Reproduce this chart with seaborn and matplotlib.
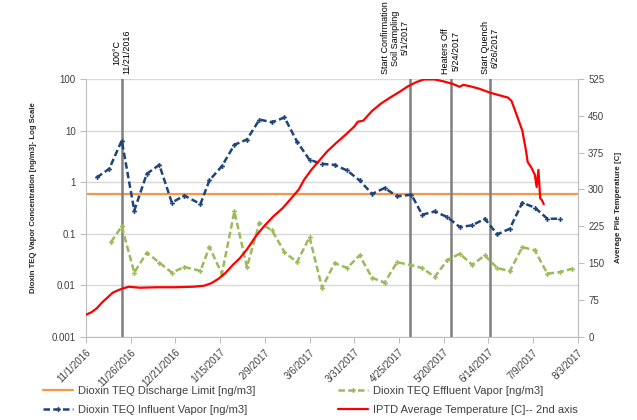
import matplotlib
matplotlib.use("Agg")
import matplotlib.pyplot as plt
from matplotlib.ticker import NullLocator
import pandas as pd
import seaborn as sns

sns.set_style("white")
plt.rcParams["font.family"] = ["Liberation Sans Narrow", "Liberation Sans", "DejaVu Sans"]

# weekly dioxin samples
influent_dates = ["2016-11-07", "2016-11-14", "2016-11-21", "2016-11-28", "2016-12-05", "2016-12-12",
                  "2016-12-19", "2016-12-26", "2017-01-04", "2017-01-09", "2017-01-16", "2017-01-23",
                  "2017-01-30", "2017-02-06", "2017-02-13", "2017-02-20", "2017-02-27", "2017-03-06",
                  "2017-03-13", "2017-03-20", "2017-03-27", "2017-04-03", "2017-04-10", "2017-04-17",
                  "2017-04-24", "2017-05-02", "2017-05-08", "2017-05-15", "2017-05-22", "2017-05-29",
                  "2017-06-05", "2017-06-12", "2017-06-19", "2017-06-26", "2017-07-03", "2017-07-10",
                  "2017-07-17", "2017-07-24"]
influent_vals = [1.23, 1.81, 6.4, 0.28, 1.45, 2.16, 0.40, 0.55, 0.375, 1.08,
                 2.04, 5.3, 6.7, 16.3, 14.5, 17.9, 6.1, 2.7, 2.26, 2.16,
                 1.68, 1.08, 0.59, 0.77, 0.53, 0.57, 0.233, 0.27, 0.21, 0.135,
                 0.145, 0.195, 0.097, 0.125, 0.40, 0.32, 0.195, 0.195]

effluent_dates = ["2016-11-15", "2016-11-21", "2016-11-28", "2016-12-05", "2016-12-12", "2016-12-19",
                  "2016-12-26", "2017-01-04", "2017-01-09", "2017-01-16", "2017-01-23", "2017-01-30",
                  "2017-02-06", "2017-02-13", "2017-02-20", "2017-02-27", "2017-03-06", "2017-03-13",
                  "2017-03-20", "2017-03-27", "2017-04-03", "2017-04-10", "2017-04-17", "2017-04-24",
                  "2017-05-02", "2017-05-08", "2017-05-15", "2017-05-22", "2017-05-29", "2017-06-05",
                  "2017-06-12", "2017-06-19", "2017-06-26", "2017-07-03", "2017-07-10", "2017-07-17",
                  "2017-07-24", "2017-07-31"]
effluent_vals = [0.069, 0.139, 0.0176, 0.043, 0.0275, 0.0176, 0.0226, 0.019, 0.055, 0.0168,
                 0.27, 0.0226, 0.163, 0.116, 0.044, 0.028, 0.086, 0.0089, 0.027, 0.0216,
                 0.038, 0.0139, 0.0113, 0.028, 0.0244, 0.0216, 0.0145, 0.0305, 0.041, 0.025,
                 0.038, 0.0216, 0.0187, 0.055, 0.0475, 0.0168, 0.018, 0.021]

discharge_limit = 0.6

# average pile temperature
temp_dates = ["2016-11-01", "2016-11-04", "2016-11-07", "2016-11-10", "2016-11-13", "2016-11-16",
              "2016-11-19", "2016-11-22", "2016-11-25", "2016-12-01", "2016-12-11", "2016-12-21",
              "2016-12-31", "2017-01-06", "2017-01-10", "2017-01-14", "2017-01-18", "2017-01-22",
              "2017-01-26", "2017-01-30", "2017-02-04", "2017-02-09", "2017-02-14", "2017-02-19",
              "2017-02-24", "2017-02-28", "2017-03-03", "2017-03-07", "2017-03-11", "2017-03-16",
              "2017-03-21", "2017-03-26", "2017-03-31", "2017-04-02", "2017-04-05", "2017-04-10",
              "2017-04-15", "2017-04-20", "2017-04-25", "2017-04-30", "2017-05-05", "2017-05-09",
              "2017-05-15", "2017-05-20", "2017-05-25", "2017-05-29", "2017-05-31", "2017-06-04",
              "2017-06-09", "2017-06-15", "2017-06-21", "2017-06-25", "2017-06-27", "2017-06-29",
              "2017-07-01", "2017-07-03", "2017-07-05", "2017-07-06", "2017-07-08", "2017-07-10",
              "2017-07-11", "2017-07-12", "2017-07-13", "2017-07-14", "2017-07-15"]
temp_vals = [45, 50, 58, 70, 80, 90, 95, 99, 102, 100, 101, 101,
             102, 104, 109, 118, 130, 146, 160, 178, 205, 227, 246, 262,
             283, 300, 320, 340, 357, 378, 395, 411, 428, 438, 440, 460,
             475, 487, 498, 510, 519, 524, 524, 520, 515, 509, 513, 510,
             505, 497, 491, 487, 480, 460, 440, 420, 380, 356, 345, 330,
             305, 340, 282, 278, 270]

events = [("2016-11-21", "100°C\n11/21/2016", "center"),
          ("2017-05-01", "Start Confirmation\nSoil Sampling\n5/1/2017", "right"),
          ("2017-05-24", "Heaters Off\n5/24/2017", "center"),
          ("2017-06-15", "Start Quench\n6/26/2017", "center")]

left_ticks = [0.001, 0.01, 0.1, 1, 10, 100]
left_labels = ["0.001", "0.01", "0.1", "1", "10", "100"]
right_ticks = [0, 75, 150, 225, 300, 375, 450, 525]

fig = plt.figure(figsize=(6.37, 4.2), dpi=100)
ax = fig.add_axes([0.135, 0.198, 0.772, 0.614])
ax2 = ax.twinx()

ax.set_yscale("log")
ax.axhline(discharge_limit, color="#f79646", lw=1.6, label="Dioxin TEQ Discharge Limit [ng/m3]", zorder=2)
sns.lineplot(x=pd.to_datetime(influent_dates), y=influent_vals, ax=ax, color="#1f4479",
             linestyle=(0, (2.6, 1.3)), lw=1.8, marker="P", markersize=3.5, markeredgewidth=0,
             label="Dioxin TEQ Influent Vapor [ng/m3]", zorder=3)
sns.lineplot(x=pd.to_datetime(effluent_dates), y=effluent_vals, ax=ax, color="#9bbb59",
             linestyle=(0, (2.6, 1.3)), lw=1.8, marker="P", markersize=3.5, markeredgewidth=0,
             label="Dioxin TEQ Effluent Vapor [ng/m3]", zorder=3)
sns.lineplot(x=pd.to_datetime(temp_dates), y=temp_vals, ax=ax2, color="#ff0000", lw=1.6,
             label="IPTD Average Temperature [C]-- 2nd axis")

for date, text, ha in events:
    d = pd.Timestamp(date)
    ax.axvline(d, color="#7f7f7f", lw=1.8, zorder=2.5)
    ax.text(d, 1.018, text, transform=ax.get_xaxis_transform(), rotation=90, ha=ha, va="bottom",
            multialignment="center", fontsize=6.5, color="#000000", linespacing=1.15)

start, end = pd.Timestamp("2016-11-01"), pd.Timestamp("2017-08-03")
ax.set_xlim(start, end)
xt = pd.date_range(start, end, freq="25D")
ax.set_xticks(xt)
ax.set_xticklabels([f"{d.month}/{d.day}/{d.year}" for d in xt], rotation=45, ha="right",
                   rotation_mode="anchor")

ax.set_ylim(0.001, 100)
ax.set_yticks(left_ticks)
ax.set_yticklabels(left_labels)
ax.yaxis.set_minor_locator(NullLocator())
ax2.set_ylim(0, 525)
ax2.set_yticks(right_ticks)

ax.yaxis.grid(True, color="#d9d9d9", lw=1)
ax.set_axisbelow(True)
ax.set_xlabel("")
ax.set_ylabel("Dioxin TEQ Vapor Concentration [ng/m3]- Log Scale", fontsize=5.6, fontweight="bold")
ax.yaxis.set_label_coords(-0.1, 0.54)
ax2.set_ylabel("Average Pile Temperature [C]", fontsize=5.8, fontweight="bold", labelpad=8)

for a in (ax, ax2):
    for s in a.spines.values():
        s.set_color("#bfbfbf")
    a.spines["top"].set_visible(False)
ax2.spines["left"].set_visible(False)
ax2.spines["bottom"].set_visible(False)
ax.tick_params(axis="both", bottom=True, left=True, direction="out", length=4, color="#bfbfbf",
               labelcolor="#404040", labelsize=7)
ax2.tick_params(axis="y", right=True, direction="out", length=4, color="#bfbfbf",
                labelcolor="#404040", labelsize=7)

h1, l1 = ax.get_legend_handles_labels()
h2, l2 = ax2.get_legend_handles_labels()
ax.get_legend().remove()
ax2.get_legend().remove()
handles = h1 + h2
labels = l1 + l2
fig.legend(handles, labels, ncol=2, frameon=False,
           loc="upper left", bbox_to_anchor=(0.052, 0.105), fontsize=8, handlelength=2.7,
           handletextpad=0.45, columnspacing=7.4, labelspacing=0.8, labelcolor="#404040")

fig.savefig("out.png", dpi=100)
